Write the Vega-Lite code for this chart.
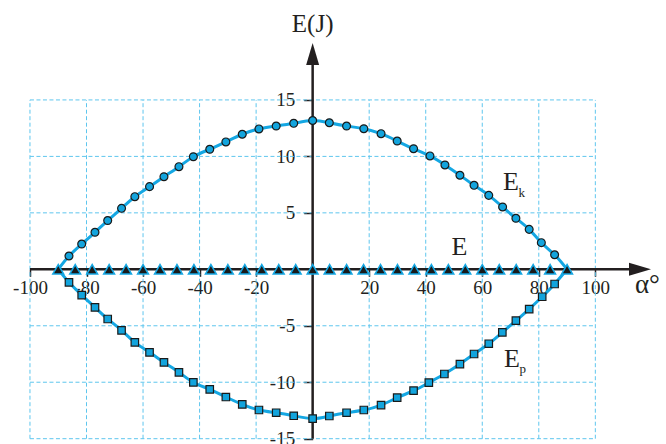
{
  "$schema": "https://vega.github.io/schema/vega-lite/v6.json",
  "width": 666,
  "height": 444,
  "autosize": {"type": "none"},
  "padding": 0,
  "background": "white",
  "config": {
    "view": {"stroke": null},
    "font": "Liberation Serif",
    "text": {"font": "Liberation Serif", "color": "#231f20"},
    "axis": {
      "domain": false,
      "grid": false,
      "tickWidth": 1.5,
      "tickColor": "#231f20",
      "labelFont": "Liberation Serif",
      "labelFontSize": 19,
      "labelColor": "#231f20",
      "labelFlush": false,
      "labelOverlap": false,
      "labelExpr": "datum.value < 0 ? '-' + abs(datum.value) : '' + datum.value",
      "titleOpacity": 0
    },
    "axisX": {"offset": -174.7, "tickSize": 7, "labelPadding": 2},
    "axisY": {"offset": -312.7, "tickSize": 9, "labelPadding": 9}
  },
  "data": {"values": [{}]},
  "datasets": {
    "kinetic": [
      {"alpha": -90, "energy": 0},
      {"alpha": -86.2, "energy": 1.18},
      {"alpha": -81.7, "energy": 2.24},
      {"alpha": -77.0, "energy": 3.28},
      {"alpha": -72.5, "energy": 4.32},
      {"alpha": -67.6, "energy": 5.4},
      {"alpha": -62.9, "energy": 6.43},
      {"alpha": -57.7, "energy": 7.32},
      {"alpha": -52.6, "energy": 8.2},
      {"alpha": -47.3, "energy": 9.09},
      {"alpha": -42.2, "energy": 9.97},
      {"alpha": -36.4, "energy": 10.63},
      {"alpha": -30.7, "energy": 11.28},
      {"alpha": -24.9, "energy": 11.96},
      {"alpha": -19.0, "energy": 12.43},
      {"alpha": -12.9, "energy": 12.69},
      {"alpha": -6.7, "energy": 12.93},
      {"alpha": 0, "energy": 13.18},
      {"alpha": 5.9, "energy": 12.98},
      {"alpha": 12.0, "energy": 12.69},
      {"alpha": 18.1, "energy": 12.45},
      {"alpha": 24.2, "energy": 12.01},
      {"alpha": 29.9, "energy": 11.36},
      {"alpha": 35.7, "energy": 10.68},
      {"alpha": 41.5, "energy": 10.04},
      {"alpha": 46.8, "energy": 9.24},
      {"alpha": 52.1, "energy": 8.33},
      {"alpha": 57.1, "energy": 7.44},
      {"alpha": 62.3, "energy": 6.55},
      {"alpha": 67.2, "energy": 5.52},
      {"alpha": 71.9, "energy": 4.52},
      {"alpha": 76.6, "energy": 3.54},
      {"alpha": 80.9, "energy": 2.36},
      {"alpha": 85.6, "energy": 1.29},
      {"alpha": 90, "energy": 0}
    ],
    "potential": [
      {"alpha": -90, "energy": 0},
      {"alpha": -86.2, "energy": -1.15},
      {"alpha": -81.7, "energy": -2.28},
      {"alpha": -77.0, "energy": -3.37},
      {"alpha": -72.5, "energy": -4.4},
      {"alpha": -67.6, "energy": -5.4},
      {"alpha": -62.9, "energy": -6.47},
      {"alpha": -57.7, "energy": -7.35},
      {"alpha": -52.6, "energy": -8.24},
      {"alpha": -47.3, "energy": -9.12},
      {"alpha": -42.2, "energy": -10.01},
      {"alpha": -36.4, "energy": -10.63},
      {"alpha": -30.7, "energy": -11.31},
      {"alpha": -24.9, "energy": -11.96},
      {"alpha": -19.0, "energy": -12.46},
      {"alpha": -12.9, "energy": -12.7},
      {"alpha": -6.7, "energy": -12.97},
      {"alpha": 0, "energy": -13.22},
      {"alpha": 5.9, "energy": -12.99},
      {"alpha": 12.0, "energy": -12.7},
      {"alpha": 18.1, "energy": -12.46},
      {"alpha": 24.2, "energy": -12.02},
      {"alpha": 29.9, "energy": -11.37},
      {"alpha": 35.7, "energy": -10.75},
      {"alpha": 41.1, "energy": -10.04},
      {"alpha": 46.6, "energy": -9.27},
      {"alpha": 52.1, "energy": -8.39},
      {"alpha": 57.1, "energy": -7.5},
      {"alpha": 62.3, "energy": -6.59},
      {"alpha": 67.1, "energy": -5.58},
      {"alpha": 71.9, "energy": -4.55},
      {"alpha": 76.6, "energy": -3.52},
      {"alpha": 81.2, "energy": -2.43},
      {"alpha": 85.6, "energy": -1.3},
      {"alpha": 90, "energy": 0}
    ],
    "total": [
      {"alpha": -90, "energy": 0}, {"alpha": -84, "energy": 0}, {"alpha": -78, "energy": 0},
      {"alpha": -72, "energy": 0}, {"alpha": -66, "energy": 0}, {"alpha": -60, "energy": 0},
      {"alpha": -54, "energy": 0}, {"alpha": -48, "energy": 0}, {"alpha": -42, "energy": 0},
      {"alpha": -36, "energy": 0}, {"alpha": -30, "energy": 0}, {"alpha": -24, "energy": 0},
      {"alpha": -18, "energy": 0}, {"alpha": -12, "energy": 0}, {"alpha": -6, "energy": 0},
      {"alpha": 0, "energy": 0}, {"alpha": 6, "energy": 0}, {"alpha": 12, "energy": 0},
      {"alpha": 18, "energy": 0}, {"alpha": 24, "energy": 0}, {"alpha": 30, "energy": 0},
      {"alpha": 36, "energy": 0}, {"alpha": 42, "energy": 0}, {"alpha": 48, "energy": 0},
      {"alpha": 54, "energy": 0}, {"alpha": 60, "energy": 0}, {"alpha": 66, "energy": 0},
      {"alpha": 72, "energy": 0}, {"alpha": 78, "energy": 0}, {"alpha": 84, "energy": 0},
      {"alpha": 90, "energy": 0}
    ],
    "gridX": [
      {"alpha": -100}, {"alpha": -80}, {"alpha": -60}, {"alpha": -40}, {"alpha": -20},
      {"alpha": 20}, {"alpha": 40}, {"alpha": 60}, {"alpha": 80}, {"alpha": 100}
    ],
    "gridY": [
      {"energy": -15}, {"energy": -10}, {"energy": -5},
      {"energy": 5}, {"energy": 10}, {"energy": 15}
    ],
    "labels": [
      {"alpha": 67.3, "energy": 7.02, "name": "E", "sub": "k"},
      {"alpha": 49.1, "energy": 1.27, "name": "E", "sub": ""},
      {"alpha": 67.7, "energy": -8.65, "name": "E", "sub": "p"}
    ]
  },
  "layer": [
    {
      "data": {"name": "gridX"},
      "mark": {"type": "rule", "color": "#5ec6ee", "strokeWidth": 1, "strokeDash": [4, 2.5]},
      "encoding": {
        "x": {
          "field": "alpha",
          "type": "quantitative",
          "title": null,
          "scale": {"domain": [-110.6, 125], "nice": false, "zero": false},
          "axis": {"values": [-100, -80, -60, -40, -20, 20, 40, 60, 80, 100]}
        },
        "y": {
          "datum": -15,
          "type": "quantitative",
          "title": null,
          "scale": {"domain": [-15.47, 23.85], "nice": false, "zero": false},
          "axis": {"values": [-15, -10, -5, 5, 10, 15]}
        },
        "y2": {"datum": 15}
      }
    },
    {
      "data": {"name": "gridY"},
      "mark": {"type": "rule", "color": "#5ec6ee", "strokeWidth": 1, "strokeDash": [4, 2.5]},
      "encoding": {
        "y": {"field": "energy", "type": "quantitative"},
        "x": {"datum": -100, "type": "quantitative"},
        "x2": {"datum": 100}
      }
    },
    {
      "mark": {"type": "rule", "color": "#231f20", "strokeWidth": 2.5},
      "encoding": {
        "x": {"datum": -100, "type": "quantitative"},
        "x2": {"datum": 116},
        "y": {"datum": 0, "type": "quantitative"}
      }
    },
    {
      "mark": {"type": "rule", "color": "#231f20", "strokeWidth": 2.5},
      "encoding": {
        "x": {"datum": 0, "type": "quantitative"},
        "y": {"datum": -15, "type": "quantitative"},
        "y2": {"datum": 19}
      }
    },
    {
      "mark": {"type": "point", "shape": "M0,-1L0.59,1L-0.59,1Z", "size": 484, "filled": true, "color": "#231f20", "opacity": 1},
      "encoding": {
        "x": {"datum": 0, "type": "quantitative"},
        "y": {"datum": 19.07, "type": "quantitative"}
      }
    },
    {
      "mark": {"type": "point", "shape": "M1,0L-1,-0.59L-1,0.59Z", "size": 484, "filled": true, "color": "#231f20", "opacity": 1},
      "encoding": {
        "x": {"datum": 115.8, "type": "quantitative"},
        "y": {"datum": 0, "type": "quantitative"}
      }
    },
    {
      "data": {"name": "kinetic"},
      "mark": {"type": "line", "interpolate": "natural", "color": "#14a7e3", "strokeWidth": 3},
      "encoding": {
        "x": {"field": "alpha", "type": "quantitative"},
        "y": {"field": "energy", "type": "quantitative"}
      }
    },
    {
      "data": {"name": "potential"},
      "mark": {"type": "line", "interpolate": "natural", "color": "#14a7e3", "strokeWidth": 3},
      "encoding": {
        "x": {"field": "alpha", "type": "quantitative"},
        "y": {"field": "energy", "type": "quantitative"}
      }
    },
    {
      "data": {"name": "total"},
      "mark": {"type": "point", "shape": "triangle-up", "size": 118, "filled": true, "fill": "#1a1a1a", "stroke": "#14a7e3", "strokeWidth": 1.5, "opacity": 1},
      "encoding": {
        "x": {"field": "alpha", "type": "quantitative"},
        "y": {"field": "energy", "type": "quantitative"}
      }
    },
    {
      "data": {"name": "kinetic"},
      "transform": [{"filter": "abs(datum.alpha) < 90"}],
      "mark": {"type": "point", "shape": "circle", "size": 62, "filled": true, "fill": "#12a4dd", "stroke": "#1a1a1a", "strokeWidth": 1.2, "opacity": 1},
      "encoding": {
        "x": {"field": "alpha", "type": "quantitative"},
        "y": {"field": "energy", "type": "quantitative"}
      }
    },
    {
      "data": {"name": "potential"},
      "transform": [{"filter": "abs(datum.alpha) < 90"}],
      "mark": {"type": "point", "shape": "square", "size": 56, "filled": true, "fill": "#12a4dd", "stroke": "#1a1a1a", "strokeWidth": 1.2, "opacity": 1},
      "encoding": {
        "x": {"field": "alpha", "type": "quantitative"},
        "y": {"field": "energy", "type": "quantitative"}
      }
    },
    {
      "data": {"name": "labels"},
      "mark": {"type": "text", "align": "left", "baseline": "alphabetic", "fontSize": 26},
      "encoding": {
        "x": {"field": "alpha", "type": "quantitative"},
        "y": {"field": "energy", "type": "quantitative"},
        "text": {"field": "name"}
      }
    },
    {
      "data": {"name": "labels"},
      "mark": {"type": "text", "align": "left", "baseline": "alphabetic", "fontSize": 13, "dx": 15.5, "dy": 6.5},
      "encoding": {
        "x": {"field": "alpha", "type": "quantitative"},
        "y": {"field": "energy", "type": "quantitative"},
        "text": {"field": "sub"}
      }
    },
    {
      "mark": {"type": "text", "align": "center", "baseline": "alphabetic", "fontSize": 25, "text": "E(J)"},
      "encoding": {
        "x": {"datum": 0, "type": "quantitative"},
        "y": {"datum": 21.0, "type": "quantitative"}
      }
    },
    {
      "mark": {"type": "text", "align": "left", "baseline": "alphabetic", "fontSize": 27, "text": "α°"},
      "encoding": {
        "x": {"datum": 114, "type": "quantitative"},
        "y": {"datum": -2.1, "type": "quantitative"}
      }
    }
  ]
}
